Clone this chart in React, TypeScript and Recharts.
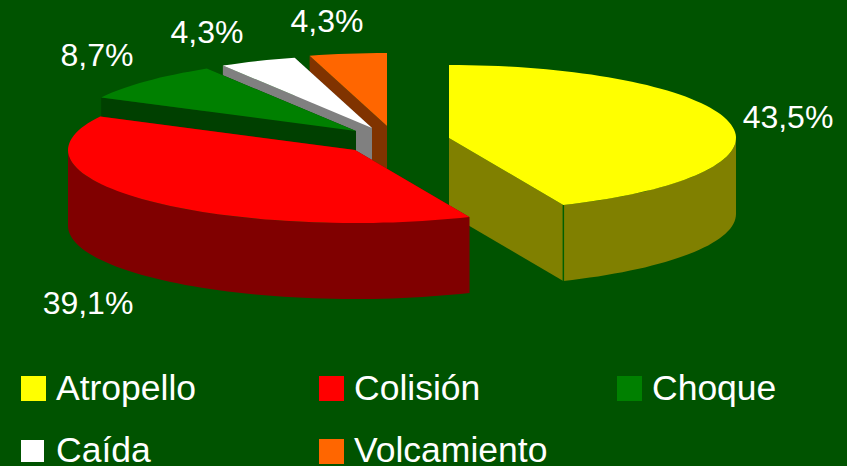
import { PieChart, Pie, Legend } from 'recharts';

const CATEGORIES = ['Atropello', 'Colisión', 'Choque', 'Caída', 'Volcamiento'];
const COUNTS = [10, 9, 2, 1, 1];
const COLORS = ['#FFFF00', '#FF0000', '#008000', '#FFFFFF', '#FF6600'];
const SIDE_COLORS = ['#808000', '#800000', '#004000', '#808080', '#803300'];

// how far each slice is pulled away from the pie centre, in px
const EXPLODE_X = [0, -94, -93, -77, -62];
const EXPLODE_Y = [0, 12, -7, -10, -12];
// label centres
const LABEL_X = [788, 88, 97, 207, 327];
const LABEL_Y = [117, 303, 55, 32, 21];
// legend cells
const LEGEND_X = [21, 319, 617, 21, 319];
const LEGEND_Y = [376, 376, 376, 440, 439];
const LEGEND_W = [25, 25, 25, 23, 25];
const LEGEND_H = [25, 25, 25, 22, 25];
const LEGEND_TEXT_Y = [370, 370, 370, 432, 432];

const WIDTH = 847;
const HEIGHT = 466;
const CX = 449;
const CY = 138;
const RX = 287;
const SQUASH = 73 / 287;
const DEPTH = 76;
const BG = '#005300';

// paint order: yellow sits behind the red wall, then the rest runs counter-clockwise
const PAINT_ORDER = [0, 4, 3, 2, 1];
const TOTAL = COUNTS.reduce((a, b) => a + b, 0);
const START = 90 - (360 * COUNTS[0]) / TOTAL;
const data = PAINT_ORDER.map((i) => ({ name: CATEGORIES[i], value: COUNTS[i], fill: COLORS[i], idx: i }));

const pt = (cx: number, cy: number, r: number, deg: number) => {
    const a = (deg * Math.PI) / 180;
    return [cx + r * Math.cos(a), cy - r * SQUASH * Math.sin(a)];
};

function arcPoints(cx: number, cy: number, r: number, from: number, to: number) {
    const pts: number[][] = [];
    const steps = Math.max(2, Math.ceil(Math.abs(to - from) / 2));
    for (let i = 0; i <= steps; i++) pts.push(pt(cx, cy, r, from + ((to - from) * i) / steps));
    return pts;
}

const toPath = (pts: number[][]) => 'M' + pts.map((p) => `${p[0].toFixed(1)},${p[1].toFixed(1)}`).join('L') + 'Z';

function Slice3D(props: any) {
    const { cx, cy, outerRadius, startAngle, endAngle, payload } = props;
    const i = payload.idx;
    const x = cx + EXPLODE_X[i];
    const y = cy + EXPLODE_Y[i];
    const side = SIDE_COLORS[i];

    const faces = [startAngle, endAngle].map((deg: number) => {
        const e = pt(x, y, outerRadius, deg);
        return toPath([[x, y], e, [e[0], e[1] + DEPTH], [x, y + DEPTH]]);
    });

    // outer wall only where the rim faces the viewer
    const low = startAngle < 0 ? -180 : 180;
    const from = Math.max(startAngle, low);
    const to = Math.min(endAngle, low + 180);
    let wall = null;
    if (to > from) {
        const rim = arcPoints(x, y, outerRadius, from, to);
        const lower = rim.map((p) => [p[0], p[1] + DEPTH]).reverse();
        wall = <path d={toPath([...rim, ...lower])} fill={side} />;
    }

    const top = [[x, y], ...arcPoints(x, y, outerRadius, startAngle, endAngle)];
    const corner = pt(x, y, outerRadius, startAngle);
    return (
        <g>
            {faces.map((d: string, k: number) => (
                <path key={k} d={d} fill={side} />
            ))}
            {wall}
            {i === 0 && (
                <line x1={corner[0]} y1={corner[1]} x2={corner[0]} y2={corner[1] + DEPTH} stroke="#006000" strokeWidth={1.5} />
            )}
            <path d={toPath(top)} fill={COLORS[i]} />
        </g>
    );
}

function SliceLabel(props: any) {
    const i = props.payload.idx;
    const text = (props.percent * 100).toFixed(1).replace('.', ',') + '%';
    return (
        <text x={LABEL_X[i]} y={LABEL_Y[i]} fill="#fff" fontSize={32} textAnchor="middle" dominantBaseline="central">
            {text}
        </text>
    );
}

function LegendCells() {
    return (
        <div style={{ position: 'absolute', left: 0, top: 0, width: WIDTH, height: HEIGHT }}>
            {CATEGORIES.map((name, i) => (
                <div key={name}>
                    <div
                        style={{
                            position: 'absolute',
                            left: LEGEND_X[i],
                            top: LEGEND_Y[i],
                            width: LEGEND_W[i],
                            height: LEGEND_H[i],
                            background: COLORS[i],
                        }}
                    />
                    <div
                        style={{
                            position: 'absolute',
                            left: LEGEND_X[i] + 35,
                            top: LEGEND_TEXT_Y[i],
                            lineHeight: '36px',
                            fontSize: 35.5,
                            color: '#fff',
                            whiteSpace: 'nowrap',
                        }}
                    >
                        {name}
                    </div>
                </div>
            ))}
        </div>
    );
}

export default function App() {
    return (
        <div style={{ position: 'absolute', left: 0, top: 0, width: WIDTH, height: HEIGHT, background: BG, overflow: 'hidden', fontFamily: '"Liberation Sans", Arial, sans-serif' }}>
            <PieChart width={WIDTH} height={HEIGHT} margin={{ top: 0, right: 0, bottom: 0, left: 0 }}>
                <Pie
                    data={data}
                    dataKey="value"
                    nameKey="name"
                    cx={CX}
                    cy={CY}
                    innerRadius={0}
                    outerRadius={RX}
                    startAngle={START}
                    endAngle={START + 360}
                    stroke="none"
                    shape={Slice3D}
                    label={SliceLabel}
                    labelLine={false}
                    isAnimationActive={false}
                />
                <Legend content={<LegendCells />} wrapperStyle={{ position: 'absolute', left: 0, top: 0, width: WIDTH, height: HEIGHT }} />
            </PieChart>
        </div>
    );
}
